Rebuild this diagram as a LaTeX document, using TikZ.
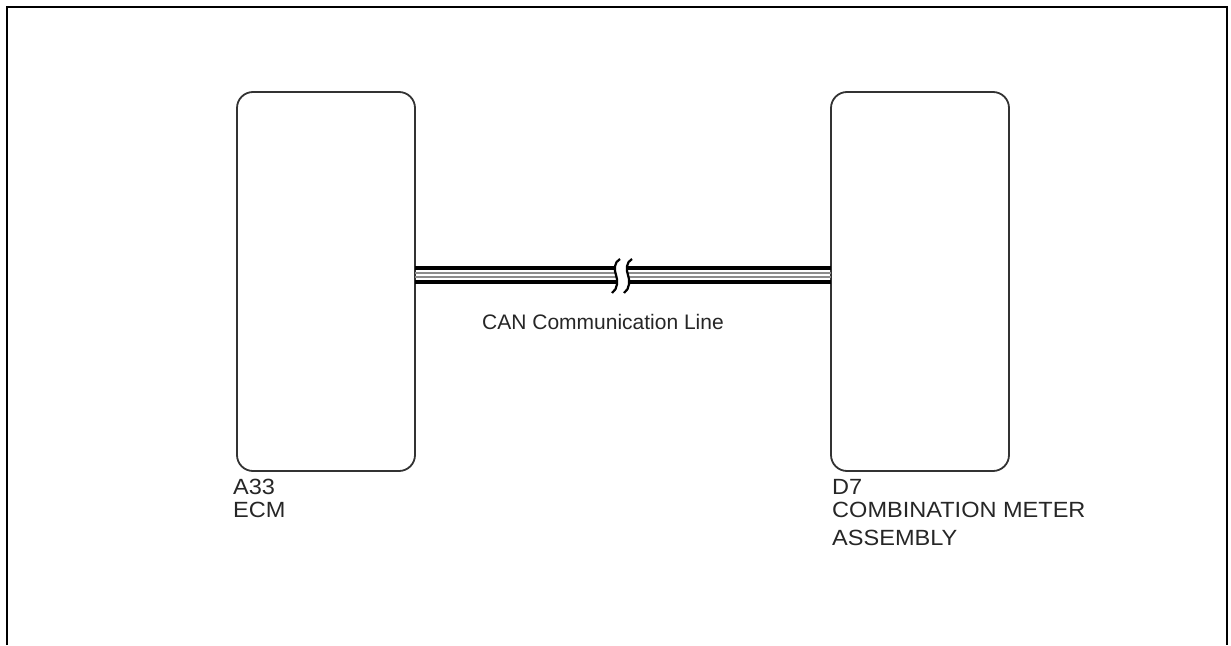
\documentclass[tikz,border=0pt]{standalone}
\usepackage{fontspec}
\setmainfont{Liberation Sans}
\newfontfamily\lblfont[FakeStretch=1.07]{Liberation Sans}
\begin{document}
\begin{tikzpicture}[x=1pt,y=-1pt,
  ecu/.style={draw=black!80,line width=1.8pt,rounded corners=16pt},
  lbl/.style={anchor=north west,inner sep=0pt,font=\lblfont\fontsize{22}{25}\selectfont,text=black!85},
  wireblack/.style={line width=3.6pt,black},
  wiregray/.style={line width=2pt,black!45},
  brk/.style={line width=2.2pt,black}]
\useasboundingbox (0,0) rectangle (1231,645);
\draw[line width=2.2pt] (7,645) -- (7,7) -- (1227,7) -- (1227,645);
% ECUs
\draw[ecu] (237,92) rectangle (415,471);
\draw[ecu] (831,92) rectangle (1009,471);
\coordinate (L) at (415,275);
\coordinate (R) at (831,275);
\coordinate (BL) at (616,275);
\coordinate (BR) at (628,275);
% wire left part
\draw[wireblack] ([yshift=-6.8pt]L) -- ([yshift=-6.8pt]BL);
\draw[wireblack] ([yshift=6.8pt]L) -- ([yshift=6.8pt]BL);
\draw[wiregray] ([yshift=-2.3pt]L) -- ([yshift=-2.3pt]BL);
\draw[wiregray] ([yshift=2.3pt]L) -- ([yshift=2.3pt]BL);
% wire right part
\draw[wireblack] ([yshift=-6.8pt]BR) -- ([yshift=-6.8pt]R);
\draw[wireblack] ([yshift=6.8pt]BR) -- ([yshift=6.8pt]R);
\draw[wiregray] ([yshift=-2.3pt]BR) -- ([yshift=-2.3pt]R);
\draw[wiregray] ([yshift=2.3pt]BR) -- ([yshift=2.3pt]R);
% break marks
\draw[brk] (620,259) .. controls (614,262) and (614,270) .. (616,275) .. controls (618,280) and (618,289) .. (612,293);
\draw[brk] (632,259) .. controls (626,262) and (626,270) .. (628,275) .. controls (630,280) and (630,289) .. (624,293);
% labels
\node[lbl,font=\fontsize{21}{24}\selectfont,anchor=north] (can) at (603,314) {CAN Communication Line};
\node[lbl] (a33) at (233,479) {A33};
\node[lbl] (ecm) at (233,502) {ECM};
\node[lbl] (d7) at (832,479) {D7};
\node[lbl] (comb) at (832,502) {COMBINATION METER};
\node[lbl] (assy) at (832,530) {ASSEMBLY};
\end{tikzpicture}
\end{document}
